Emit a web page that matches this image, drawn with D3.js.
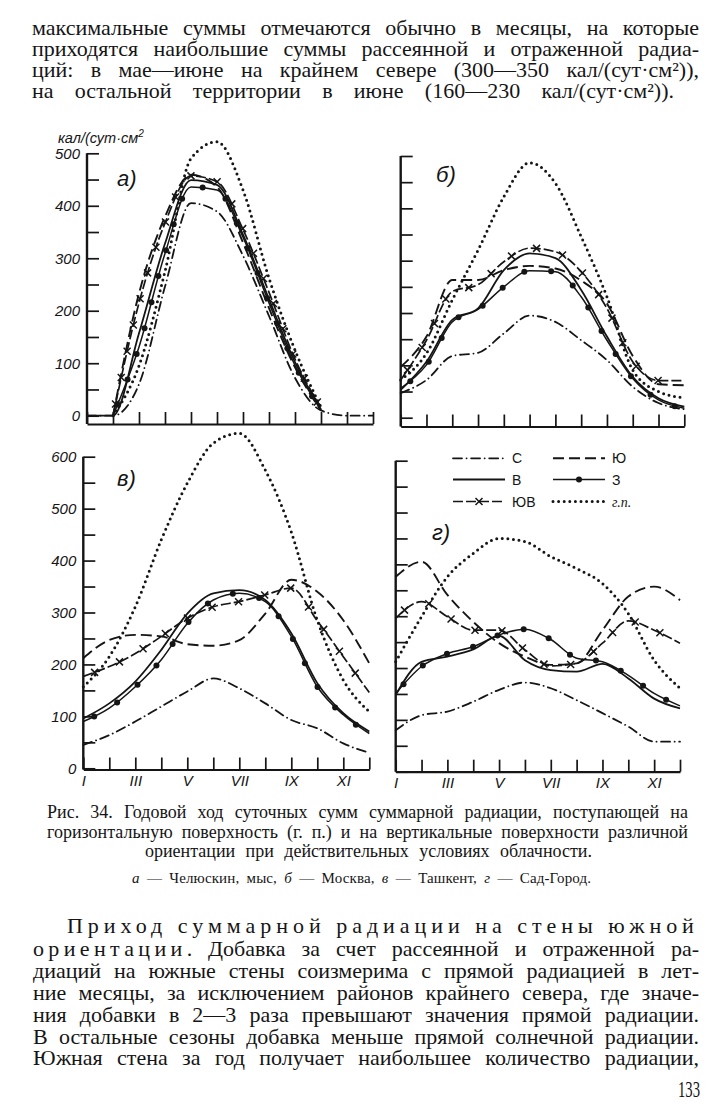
<!DOCTYPE html>
<html>
<head>
<meta charset="utf-8">
<script src="https://cdn.jsdelivr.net/npm/d3@7"></script>
<style>
  body { margin: 0; background: #fff; }
  svg { display: block; }
</style>
</head>
<body>
<svg id="page" width="715" height="1118"></svg>
<script>
// months on the x axis
const months = ["I", "II", "III", "IV", "V", "VI", "VII", "VIII", "IX", "X", "XI", "XII"];
const yLabelsA = [0, 100, 200, 300, 400, 500];
const yLabelsV = [0, 100, 200, 300, 400, 500, 600];

// а) Челюскин, мыс  (кал/(сут·см²))
const aS   = [0, 0, 60, 246, 405, 389, 305, 190, 72, 10, 0, 0];
const aYu  = [null, 0, 233, 379, 459, 436, 330, 205, 92, 10, null, null];
const aV   = [0, 0, 157, 328, 449, 440, 345, 222, 102, 12, null, null];
const aZ   = [null, 0, 131, 309, 436, 430, 340, 215, 96, 10, null, null];
const aYuV = [null, 0, 215, 367, 457, 446, 355, 235, 108, 14, null, null];
const aGP  = [null, 0, 95, 275, 490, 522, 430, 262, 125, 16, null, null];

// б) Москва
const bS   = [47, 72, 118, 124, 161, 195, 183, 148, 110, 59, 28, 16];
const bYu  = [97, 155, 263, 263, 282, 290, 285, 262, 218, 118, 64, 62];
const bV   = [53, 107, 187, 209, 282, 314, 305, 244, 155, 78, 37, 21];
const bZ   = [56, 101, 183, 207, 250, 281, 279, 231, 148, 75, 34, 18];
const bYuV = [72, 148, 241, 254, 298, 324, 317, 279, 209, 107, 71, 71];
const bGP  = [72, 123, 225, 320, 422, 487, 448, 346, 231, 91, 50, 38];

// в) Ташкент
const vS   = [45, 64, 90, 119, 148, 173, 154, 125, 93, 77, 48, 30];
const vYu  = [212, 247, 257, 254, 239, 236, 247, 298, 363, 340, 285, 202];
const vV   = [96, 125, 167, 228, 298, 337, 343, 324, 260, 164, 106, 71];
const vZ   = [90, 116, 157, 209, 279, 324, 337, 321, 254, 157, 103, 67];
const vYuV = [177, 196, 221, 254, 289, 311, 321, 334, 347, 284, 215, 146];
const vGP  = [157, 215, 311, 440, 549, 626, 645, 574, 455, 285, 170, 109];

// г) Сад-Город
const gS   = [80, 109, 116, 135, 158, 172, 161, 138, 113, 87, 58, 58];
const gYu  = [376, 405, 341, 289, 248, 222, 206, 209, 273, 338, 357, 331];
const gV   = [148, 212, 222, 236, 262, 215, 196, 193, 208, 180, 141, 122];
const gZ   = [151, 203, 228, 241, 264, 275, 255, 219, 212, 186, 151, 127];
const gYuV = [296, 328, 299, 273, 273, 235, 204, 209, 248, 291, 273, 248];
const gGP  = [212, 299, 376, 421, 450, 444, 415, 392, 363, 305, 215, 161];

const legendNames = ["С", "Ю", "В", "З", "ЮВ", "г.п."];
const seriesKeys  = ["S", "Yu", "V", "Z", "YuV", "GP"];

const ink = "#151515";
const styles = {
  S:   { dash: "9 4.5 0.1 4.5", width: 1.8, cap: "round" },
  Yu:  { dash: "11 5", width: 1.9, cap: "butt" },
  V:   { dash: null, width: 1.8, cap: "butt" },
  Z:   { dash: null, width: 1.5, cap: "butt", marker: "dot" },
  YuV: { dash: "10 3", width: 1.7, cap: "butt", marker: "cross" },
  GP:  { dash: "0 5.6", width: 3, cap: "round" }
};

const svg = d3.select("#page");
svg.append("rect").attr("width", 715).attr("height", 1118).attr("fill", "#fff");

// ---------- text helpers ----------
function textLine(txt, x0, x1, yb, size, opts) {
  opts = opts || {};
  const t = svg.append("text")
    .attr("x", x0).attr("y", yb)
    .attr("font-family", "Liberation Serif, serif")
    .attr("font-size", size)
    .attr("fill", ink)
    .text(txt);
  if (opts.letter) {
    const w0 = t.node().getComputedTextLength();
    const ls = (x1 - x0 - w0) / (txt.length - 1);
    t.attr("letter-spacing", ls);
    t.attr("textLength", x1 - x0).attr("lengthAdjust", "spacing");
  } else if (x1) {
    const w = t.node().getComputedTextLength();
    const n = (txt.match(/ /g) || []).length;
    if (n) t.attr("word-spacing", (x1 - x0 - w) / n);
    t.attr("textLength", x1 - x0).attr("lengthAdjust", "spacing");
  }
  return t;
}

// top paragraph
textLine("максимальные суммы отмечаются обычно в месяцы, на которые", 32, 699, 35, 22);
textLine("приходятся наибольшие суммы рассеянной и отраженной радиа-", 32, 699, 56, 22);
textLine("ций: в мае—июне на крайнем севере (300—350 кал/(сут·см²)),", 32, 699, 77, 22);
textLine("на остальной территории в июне (160—230 кал/(сут·см²)).", 32, 674, 97.5, 22);

// ---------- panels ----------
const panels = [
  { name: "а)", data: [aS, aYu, aV, aZ, aYuV, aGP], x0: 87, x1: 373, y0: 415.7, yTop: 153.3, vMax: 500,
    axisY: 424, yLabels: yLabelsA, xLabels: false, lx: 117, ly: 186 },
  { name: "б)", data: [bS, bYu, bV, bZ, bYuV, bGP], x0: 400.7, x1: 684.3, y0: 417.7, yTop: 156, vMax: 500,
    axisY: 426.5, yLabels: [], xLabels: false, lx: 436, ly: 182 },
  { name: "в)", data: [vS, vYu, vV, vZ, vYuV, vGP], x0: 83.3, x1: 369.3, y0: 768.3, yTop: 456.7, vMax: 600,
    axisY: 769.5, yLabels: yLabelsV, xLabels: true, lx: 117, ly: 486 },
  { name: "г)", data: [gS, gYu, gV, gZ, gYuV, gGP], x0: 395.7, x1: 680, y0: 771.7, yTop: 460.7, vMax: 600,
    axisY: 771.7, yLabels: [], xLabels: true, lx: 432, ly: 540 }
];

function drawMarker(g, type, px, py) {
  if (type === "dot") {
    g.append("circle").attr("cx", px).attr("cy", py).attr("r", 3).attr("fill", ink);
  } else {
    const s = 3.5;
    g.append("path")
      .attr("d", `M${px - s},${py - s}L${px + s},${py + s}M${px - s},${py + s}L${px + s},${py - s}`)
      .attr("stroke", ink).attr("stroke-width", 1.5).attr("fill", "none");
  }
}

function styledPath(g, st) {
  return g.append("path")
    .attr("fill", "none")
    .attr("stroke", ink)
    .attr("stroke-width", st.width)
    .attr("stroke-linecap", st.cap)
    .attr("stroke-dasharray", st.dash);
}

panels.forEach(p => {
  const x = d3.scaleLinear().domain([0, 11]).range([p.x0, p.x1]);
  const y = d3.scaleLinear().domain([0, p.vMax]).range([p.y0, p.yTop]);
  const g = svg.append("g");

  // y axis: ticks every 50, pointing inward
  const ya = g.append("g")
    .attr("transform", `translate(${p.x0},0)`)
    .call(d3.axisLeft(y)
      .tickValues(d3.range(0, p.vMax + 1, 50))
      .tickSizeInner(-12).tickSizeOuter(0).tickPadding(7)
      .tickFormat(d => p.yLabels.includes(d) ? d : ""));
  ya.select(".domain").remove();
  ya.selectAll("line").attr("stroke", ink).attr("stroke-width", 1.7);
  ya.selectAll("text")
    .attr("font-family", "Liberation Sans, sans-serif")
    .attr("font-style", "italic")
    .attr("font-size", 15)
    .attr("fill", ink);

  g.append("line")
    .attr("x1", p.x0).attr("x2", p.x0)
    .attr("y1", p.yTop).attr("y2", p.axisY)
    .attr("stroke", ink).attr("stroke-width", 2.4);

  // x axis: a tick per month, pointing up
  const xa = g.append("g")
    .attr("transform", `translate(0,${p.axisY})`)
    .call(d3.axisBottom(x)
      .tickValues(d3.range(0, 12))
      .tickSizeInner(-12).tickSizeOuter(0).tickPadding(6)
      .tickFormat(i => (p.xLabels && i % 2 === 0) ? months[i] : ""));
  xa.select(".domain").attr("stroke", ink).attr("stroke-width", 2.2);
  xa.selectAll("line").attr("stroke", ink).attr("stroke-width", 1.7);
  xa.selectAll("text")
    .attr("font-family", "Liberation Sans, sans-serif")
    .attr("font-style", "italic")
    .attr("font-size", 15)
    .attr("fill", ink);

  // panel letter
  g.append("text")
    .attr("x", p.lx).attr("y", p.ly)
    .attr("font-family", "Liberation Sans, sans-serif")
    .attr("font-style", "italic")
    .attr("font-size", 22)
    .attr("fill", ink)
    .text(p.name);

  // curves
  const line = d3.line()
    .defined(d => d != null)
    .x((d, i) => x(i))
    .y(d => y(d))
    .curve(d3.curveMonotoneX);

  p.data.forEach((vals, k) => {
    const st = styles[seriesKeys[k]];
    const path = styledPath(g, st).attr("d", line(vals));
    if (st.marker) {
      const node = path.node();
      const L = node.getTotalLength();
      for (let s = 12; s < L - 4; s += 27) {
        const pt = node.getPointAtLength(s);
        drawMarker(g, st.marker, pt.x, pt.y);
      }
    }
  });
});

// y unit label of panel а
const unit = svg.append("text")
  .attr("x", 58).attr("y", 143)
  .attr("font-family", "Liberation Sans, sans-serif")
  .attr("font-style", "italic")
  .attr("font-size", 14.5)
  .attr("fill", ink)
  .text("кал/(сут·см");
unit.append("tspan").attr("dy", -6).attr("font-size", 10).text("2");

// legend inside panel г
const legendCols = [453, 553];
const legendRows = [458.3, 479.5, 501.5];
seriesKeys.forEach((key, i) => {
  const col = i % 2, row = Math.floor(i / 2);
  const lx0 = legendCols[col], ly = legendRows[row];
  const st = styles[key];
  const lg = svg.append("g");
  styledPath(lg, st).attr("d", d3.line()([[lx0, ly], [lx0 + 52, ly]]));
  if (st.marker) drawMarker(lg, st.marker, lx0 + 26, ly);
  lg.append("text")
    .attr("x", lx0 + 59).attr("y", ly + 5)
    .attr("font-family", key === "GP" ? "Liberation Serif, serif" : "Liberation Sans, sans-serif")
    .attr("font-style", key === "GP" ? "italic" : "normal")
    .attr("font-size", 14)
    .attr("fill", ink)
    .text(legendNames[i]);
});

// ---------- caption ----------
textLine("Рис. 34. Годовой ход суточных сумм суммарной радиации, поступающей на", 47, 688, 818, 18);
textLine("горизонтальную поверхность (г. п.) и на вертикальные поверхности различной", 47, 688, 837.5, 18);
textLine("ориентации при действительных условиях облачности.", 145, 592, 857, 18);

const cap4 = svg.append("text")
  .attr("x", 132).attr("y", 883)
  .attr("font-family", "Liberation Serif, serif")
  .attr("font-size", 15)
  .attr("fill", ink);
[["а", true], [" — Челюскин, мыс, ", false], ["б", true], [" — Москва, ", false],
 ["в", true], [" — Ташкент, ", false], ["г", true], [" — Сад-Город.", false]].forEach(([s, it]) => {
  cap4.append("tspan").attr("font-style", it ? "italic" : "normal").text(s);
});
{
  const w = cap4.node().getComputedTextLength();
  cap4.attr("word-spacing", Math.max(0, (591 - 132 - w) / 14));
  cap4.attr("textLength", 459).attr("lengthAdjust", "spacing");
}

// ---------- lower paragraph ----------
textLine("Приход суммарной радиации на стены южной", 67, 699, 933, 22, { letter: true });
textLine("ориентации.", 33, 197, 955.5, 22, { letter: true });
textLine("Добавка за счет рассеянной и отраженной ра-", 208, 699, 955.5, 22);
textLine("диаций на южные стены соизмерима с прямой радиацией в лет-", 33, 699, 978, 22);
textLine("ние месяцы, за исключением районов крайнего севера, где значе-", 33, 699, 1000, 22);
textLine("ния добавки в 2—3 раза превышают значения прямой радиации.", 33, 699, 1022, 22);
textLine("В остальные сезоны добавка меньше прямой солнечной радиации.", 33, 699, 1043.5, 22);
textLine("Южная стена за год получает наибольшее количество радиации,", 33, 699, 1064.5, 22);

svg.append("text")
  .attr("x", 678).attr("y", 1097)
  .attr("font-family", "Liberation Serif, serif")
  .attr("font-size", 23)
  .attr("fill", ink)
  .attr("textLength", 22).attr("lengthAdjust", "spacingAndGlyphs")
  .text("133");
</script>
</body>
</html>
